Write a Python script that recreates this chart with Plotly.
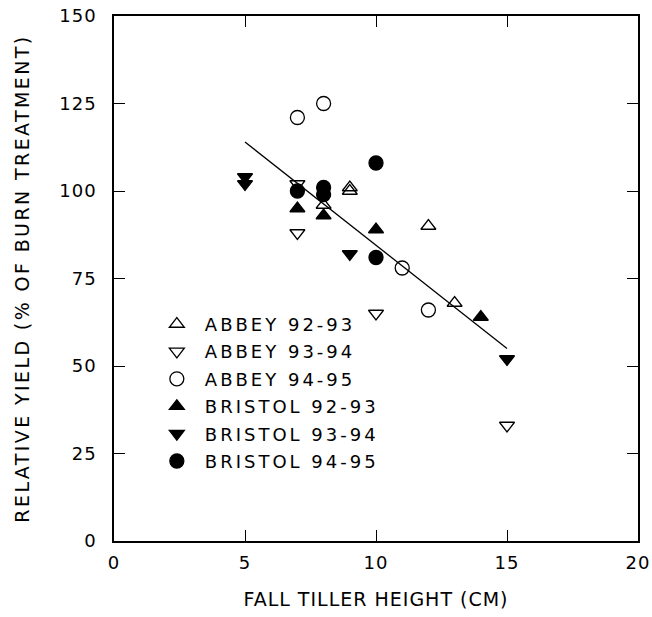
import plotly.graph_objects as go

# ---- data ----
abbey_9293_x = [9, 9, 8, 12, 13]
abbey_9293_y = [101, 100, 96, 90, 68]
abbey_9394_x = [7, 7, 10, 15]
abbey_9394_y = [102, 88, 65, 33]
abbey_9495_x = [7, 8, 11, 12]
abbey_9495_y = [121, 125, 78, 66]
bristol_9293_x = [7, 8, 10, 14]
bristol_9293_y = [95, 93, 89, 64]
bristol_9394_x = [5, 5, 9, 15]
bristol_9394_y = [104, 102, 82, 52]
bristol_9495_x = [7, 8, 8, 10, 10]
bristol_9495_y = [100, 101, 99, 108, 81]
fit_x = [5, 15]
fit_y = [114, 55]

x_ticks = [0, 5, 10, 15, 20]
y_ticks = [0, 25, 50, 75, 100, 125, 150]

FONT = "DejaVu Sans"

series = [
    ("ABBEY 92-93", abbey_9293_x, abbey_9293_y, "triangle-up-open", 13),
    ("ABBEY 93-94", abbey_9394_x, abbey_9394_y, "triangle-down-open", 13),
    ("ABBEY 94-95", abbey_9495_x, abbey_9495_y, "circle-open", 14),
    ("BRISTOL 92-93", bristol_9293_x, bristol_9293_y, "triangle-up", 13),
    ("BRISTOL 93-94", bristol_9394_x, bristol_9394_y, "triangle-down", 13),
    ("BRISTOL 94-95", bristol_9495_x, bristol_9495_y, "circle", 14),
]

fig = go.Figure()
fig.add_trace(go.Scatter(x=fit_x, y=fit_y, mode="lines",
                         line=dict(color="black", width=1.3),
                         showlegend=False, hoverinfo="skip"))
for i, (name, xs, ys, sym, sz) in enumerate(series):
    fig.add_trace(go.Scatter(
        x=xs, y=ys, mode="markers", name=name, legendgroup=f"g{i}",
        marker=dict(symbol=sym, size=sz, color="black",
                    line=dict(color="black", width=1.3)),
    ))

axis_common = dict(
    showline=True, linecolor="black", linewidth=1.5, mirror="ticks",
    ticks="inside", ticklen=11, tickwidth=1.3, tickcolor="black",
    showgrid=False, zeroline=False, automargin=False,
    tickfont=dict(family=FONT, size=18, color="black"),
)

fig.update_xaxes(range=[0, 20], tickvals=x_ticks, ticktext=[str(v) for v in x_ticks],
                 title=dict(text="FALL TILLER HEIGHT (CM)", standoff=20,
                            font=dict(family=FONT, size=19, color="black")),
                 ticklabelstandoff=5, **axis_common)
fig.update_yaxes(range=[0, 150], tickvals=y_ticks, ticktext=[str(v) for v in y_ticks],
                 title=dict(text="RELATIVE YIELD (% OF BURN TREATMENT)", standoff=28,
                            font=dict(family=FONT, size=19, color="black")),
                 ticklabelstandoff=12, **axis_common)

fig.update_layout(
    width=652, height=617,
    margin=dict(l=114, r=14, t=16, b=76, autoexpand=False),
    plot_bgcolor="white", paper_bgcolor="white",
    font=dict(family=FONT, color="black"),
    legend=dict(x=0.0665, y=0.448, xanchor="left", yanchor="top",
                bgcolor="rgba(0,0,0,0)", tracegroupgap=1, itemwidth=46,
                font=dict(family=FONT, size=18, color="black")),
)

css = (".legendtext{letter-spacing:3px}"
       ".legend .scrollbox{clip-path:none !important}"
       ".xtitle{letter-spacing:1px}"
       ".ytitle{letter-spacing:2.4px}"
       ".xtick text,.ytick text{letter-spacing:1px}")
post = ("var s=document.createElement('style');s.textContent='" + css +
        "';document.head.appendChild(s);")

fig.write_html("out.html", post_script=post)
